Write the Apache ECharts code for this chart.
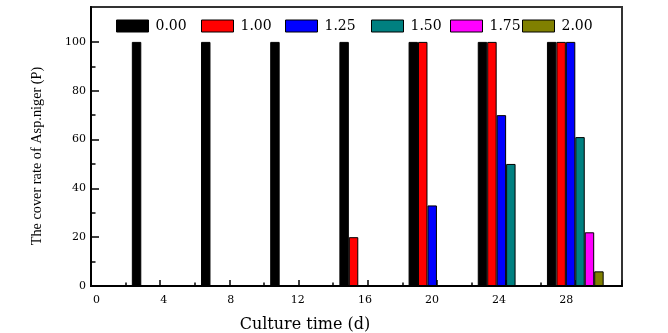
<!DOCTYPE html>
<html>
<head>
<meta charset="utf-8">
<script src="https://cdn.jsdelivr.net/npm/echarts@6/dist/echarts.min.js"></script>
<style>
  html, body { margin: 0; padding: 0; background: #fff; }
  #chart { width: 668px; height: 333px; }
</style>
</head>
<body>
<div id="chart"></div>
<script>
// Culture days (x positions of each bar group)
const days = [4, 8, 12, 16, 20, 24, 28];

// Cover rate (%) for each concentration level
const conc000 = [100, 100, 100, 100, 100, 100, 100];
const conc100 = [0, 0, 0, 20, 100, 100, 100];
const conc125 = [0, 0, 0, 0, 33, 70, 100];
const conc150 = [0, 0, 0, 0, 0, 50, 61];
const conc175 = [0, 0, 0, 0, 0, 0, 22];
const conc200 = [0, 0, 0, 0, 0, 0, 6];

const seriesNames = ['0.00', '1.00', '1.25', '1.50', '1.75', '2.00'];
const seriesValues = [conc000, conc100, conc125, conc150, conc175, conc200];
const seriesColors = ['#000000', '#ff0000', '#0000ff', '#008080', '#ff00ff', '#808000'];

// Axis tick labels and minor tick positions
const xTickLabels = [0, 4, 8, 12, 16, 20, 24, 28];
const xMinorTicks = [2, 6, 10, 14, 18, 22, 26];
const yMinorTicks = [10, 30, 50, 70, 90];

const X_MIN = 0, X_MAX = 30.7;
const Y_MIN = 0, Y_MAX = 114.3;

const serif = 'DejaVu Serif';
const chart = echarts.init(document.getElementById('chart'), null, { renderer: 'canvas' });

const legendLefts = [116, 201, 285, 371, 450, 522];

// Zero-height bars are left out so their outlines do not show on the axis
const series = seriesNames.map((name, i) => ({
  name: name,
  type: 'bar',
  xAxisIndex: 0,
  yAxisIndex: 0,
  barWidth: 9.45,
  barGap: '0%',
  itemStyle: {
    color: seriesColors[i],
    borderColor: '#000',
    borderWidth: 1
  },
  data: days.map((d, k) => [d, seriesValues[i][k] === 0 ? null : seriesValues[i][k]])
}));

const option = {
  animation: false,
  backgroundColor: '#fff',
  grid: {
    left: 91, right: 46, top: 7, bottom: 47,
    outerBoundsMode: 'none',
    containLabel: false,
    show: true,
    borderColor: '#333',
    borderWidth: 2,
    backgroundColor: 'transparent'
  },
  legend: seriesNames.map((name, i) => ({
    data: [name],
    left: legendLefts[i],
    top: 19,
    padding: 0,
    icon: 'rect',
    itemWidth: 32,
    itemHeight: 12,
    itemStyle: { borderColor: '#000', borderWidth: 1 },
    textStyle: { fontFamily: serif, fontSize: 14, color: '#000', padding: [0, 0, 0, 2] },
    selectedMode: false
  })),
  xAxis: [
    {
      type: 'value',
      min: X_MIN, max: X_MAX, interval: 4,
      name: 'Culture time (d)',
      nameLocation: 'middle',
      nameGap: 31,
      nameTextStyle: { fontFamily: serif, fontSize: 16, color: '#000', padding: [0, 103, 0, 0] },
      axisLine: { show: true, onZero: false, lineStyle: { color: '#000', width: 2 } },
      axisTick: { show: true, inside: true, length: 6, lineStyle: { color: '#000', width: 1.5 } },
      axisLabel: { show: false },
      splitLine: { show: false }
    },
    {
      // minor ticks
      type: 'value',
      min: X_MIN, max: X_MAX,
      position: 'bottom',
      axisLine: { show: false },
      axisTick: { show: true, inside: true, length: 3.5, customValues: xMinorTicks, lineStyle: { color: '#000', width: 1.5 } },
      axisLabel: { show: false },
      splitLine: { show: false }
    },
    {
      // tick labels, set on a slightly tighter spacing than the ticks
      type: 'value',
      min: -0.333, max: 31.33,
      position: 'bottom',
      axisLine: { show: false },
      axisTick: { show: false },
      axisLabel: { fontFamily: serif, fontSize: 11, color: '#000', margin: 9, customValues: xTickLabels },
      splitLine: { show: false }
    }
  ],
  yAxis: [
    {
      type: 'value',
      min: Y_MIN, max: Y_MAX, interval: 20,
      name: 'The cover rate of Asp.niger (P)',
      nameLocation: 'middle',
      nameGap: 47,
      nameRotate: 90,
      nameTextStyle: { fontFamily: 'Liberation Serif', fontSize: 14.3, color: '#000', padding: [0, 19, 0, 0] },
      axisLine: { show: true, onZero: false, lineStyle: { color: '#000', width: 2 } },
      axisTick: { show: true, inside: true, length: 8, lineStyle: { color: '#000', width: 1.5 } },
      axisLabel: { fontFamily: serif, fontSize: 11, color: '#000', margin: 5, showMaxLabel: false },
      splitLine: { show: false }
    },
    {
      // minor ticks
      type: 'value',
      min: Y_MIN, max: Y_MAX,
      position: 'left',
      axisLine: { show: false },
      axisTick: { show: true, inside: true, length: 4.5, customValues: yMinorTicks, lineStyle: { color: '#000', width: 1.5 } },
      axisLabel: { show: false },
      splitLine: { show: false }
    }
  ],
  series: series
};

chart.setOption(option);
</script>
</body>
</html>
